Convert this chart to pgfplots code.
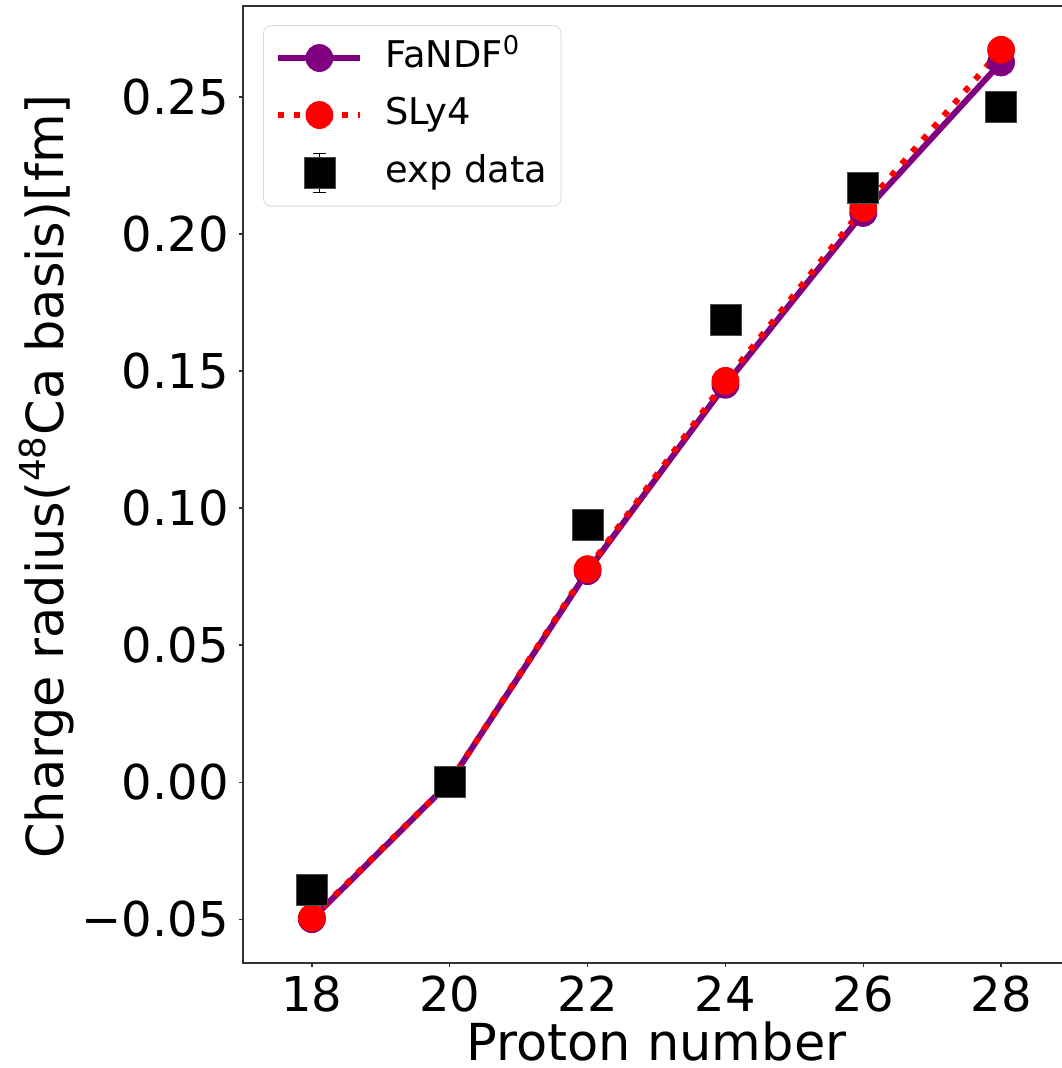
\documentclass[border=0pt]{standalone}
\usepackage{fontspec}
\setmainfont{DejaVu Sans}
\usepackage{pgfplots}
\pgfplotsset{compat=1.18}
\definecolor{mplpurple}{RGB}{128,0,128}
\definecolor{mplred}{RGB}{255,0,0}
\begin{document}
\begin{tikzpicture}
\begin{axis}[
  at={(0,0)}, anchor=south west,
  scale only axis, width=413.5pt, height=478.5pt,
  xmin=17, xmax=29, ymin=-0.066, ymax=0.2832,
  xtick={18,20,22,24,26,28},
  xticklabels={18,20,22,24,26,28},
  ytick={-0.05,0,0.05,0.1,0.15,0.2,0.25},
  yticklabels={−0.05,0.00,0.05,0.10,0.15,0.20,0.25},
  tick align=outside, tick pos=left,
  major tick length=2pt,
  every tick/.style={black!80, line width=0.6pt},
  axis line style={black!80, line width=0.75pt},
  tick label style={font=\fontsize{24}{28}\selectfont},
  xticklabel style={inner sep=0pt, anchor=north, yshift=-4pt},
  yticklabel style={inner sep=0pt, anchor=east, xshift=-5pt},
  xlabel={Proton number},
  ylabel={Charge radius(\textsuperscript{48}Ca basis)[fm]},
  every axis x label/.style={at={(axis description cs:0.5,0)}, anchor=center, yshift=-39.3pt, font=\fontsize{25.5}{30}\selectfont},
  every axis y label/.style={at={(axis description cs:-0.237,0.5084)}, rotate=90, anchor=center, font=\fontsize{25.5}{30}\selectfont},
  legend cell align=left,
  legend style={at={(axis description cs:0.0242,0.980)}, anchor=north west,
    draw=black!15, rounded corners=4pt, fill=white,
    font=\fontsize{18.4}{22}\selectfont,
    inner xsep=6pt, inner ysep=6.5pt, row sep=9pt,
    nodes={inner sep=1pt, text height=13.5pt, text depth=4pt}},
  legend image code/.code={\draw[mark repeat=2, mark phase=2, #1] plot coordinates {(0pt,0pt)(20.5pt,0pt)(41pt,0pt)};
    \path (51pt,0pt);},
]
\addplot[mplpurple, line width=3pt, mark=*, mark size=6.75pt,
  mark options={solid, line width=0.4pt, draw=mplpurple, fill=mplpurple}]
  coordinates {(18,-0.0500)(20,0)(22,0.0770)(24,0.1450)(26,0.2077)(28,0.2626)};
\addlegendentry{FaNDF\textsuperscript{0}}
\addplot[mplred, line width=3pt, dash pattern=on 3pt off 5pt, mark=*, mark size=6.75pt,
  mark options={solid, line width=0.4pt, draw=mplred, fill=mplred}]
  coordinates {(18,-0.0495)(20,0)(22,0.0777)(24,0.1464)(26,0.2095)(28,0.2672)};
\addlegendentry{SLy4}
\addplot[black, only marks, mark=square*, mark size=7.75pt,
  mark options={line width=0.4pt, draw=black!70, fill=black},
  error bars/.cd, y dir=both, y explicit,
  error bar style={black, line width=0.8pt},
  error mark options={rotate=90, mark size=3.25pt, black, line width=0.8pt},
  /pgfplots/legend image code/.code={
    \draw[black, line width=0.8pt] (20.5pt,-9.75pt) -- (20.5pt,9.75pt)
      (17.25pt,-9.75pt) -- (23.75pt,-9.75pt) (17.25pt,9.75pt) -- (23.75pt,9.75pt);
    \draw[black, mark=square*, mark size=7.75pt, mark options={draw=black!70, fill=black, line width=0.4pt}] plot coordinates {(20.5pt,0pt)};
    \path (0pt,0pt) (51pt,0pt);
  }]
  coordinates {(18,-0.0394) +- (0,0.002)
    (20,0) +- (0,0.002)
    (22,0.0938) +- (0,0.002)
    (24,0.1688) +- (0,0.002)
    (26,0.2168) +- (0,0.002)
    (28,0.2464) +- (0,0.002)};
\addlegendentry{exp data}
\end{axis}
\pgfresetboundingbox
\useasboundingbox (-121.5pt,-52.5pt) rectangle (409pt,481.5pt);
\end{tikzpicture}
\end{document}
